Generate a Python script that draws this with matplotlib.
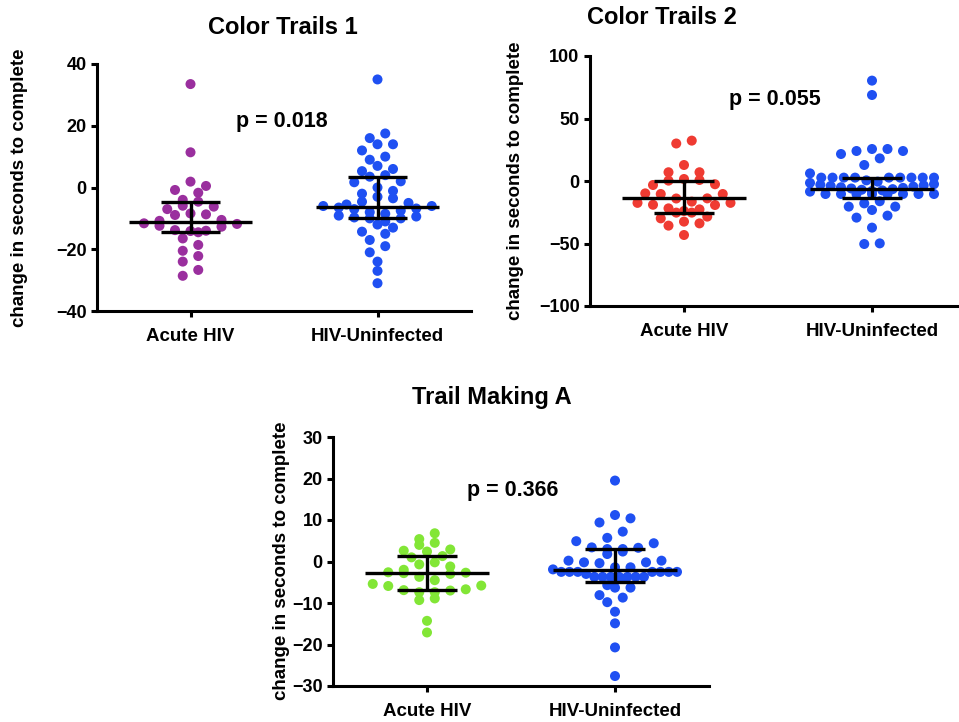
import matplotlib.pyplot as plt
import numpy as np

plt.rcParams['font.family'] = ['Liberation Sans', 'DejaVu Sans']
plt.rcParams['font.weight'] = 'bold'

groups = ['Acute HIV', 'HIV-Uninfected']
titles = ['Color Trails 1', 'Color Trails 2', 'Trail Making A']
p_labels = ['p = 0.018', 'p = 0.055', 'p = 0.366']
ylims = [(-40, 40), (-100, 100), (-30, 30)]
yticks = [[-40, -20, 0, 20, 40], [-100, -50, 0, 50, 100], [-30, -20, -10, 0, 10, 20, 30]]
ylabel = 'change in seconds to complete'

# Color Trails 1
ct1_acute = [33.5, 11.4, 1.9, 0.5, -0.8, -1.7, -4.0, -4.6, -5.9, -6.2, -7.0, -8.4, -8.7,
             -8.9, -10.5, -10.8, -11.6, -11.8, -12.4, -12.7, -13.8, -14.0, -14.1, -14.5,
             -16.5, -18.6, -20.5, -22.2, -24.0, -26.7, -28.6]
ct1_uninf = [35, 17.5, 16, 14, 14, 12, 10, 9, 7, 6, 5.3, 4, 3.5, 2, 1.7, 0, -1.1, -2, -3,
             -3.5, -4.6, -5, -5.5, -6, -6, -6.5, -6.8, -7, -7.5, -8, -8.5, -9.1, -9.4, -9.7,
             -10, -10, -11, -12, -13, -14.3, -15, -17, -19, -21, -24, -27, -31]
# Color Trails 2
ct2_acute = [32.3, 30, 12.8, 7, 7, 1.6, 0.8, 0.3, -2.6, -3.2, -9.9, -10.4, -10.4, -13.9,
             -14, -16.5, -17.5, -17.5, -19, -19.2, -21.9, -22.7, -24, -25.3, -25.3, -28.5,
             -29.9, -32.5, -33.9, -35.7, -43.2]
ct2_uninf = [80.3, 68.8, 25.6, 25.6, 24, 24, 21.6, 18.1, 12.8, 6.1,
             2.7, 2.7, 2.7, 2.7, 2.7, 2.7, 2.7, 2.7, 2.7,
             0.5, -0.5, -1.5, -2.5, -3, -3.5, -4, -4.5, -5, -5.5, -6, -6.5, -7, -7.5, -8, -8.5,
             -10.4, -10.4, -10.4, -10.4, -10.4, -10.4, -10.4, -10.4,
             -16.2, -17.9, -20.5, -20.5, -23.2, -27.7, -29.3, -37.3, -49.9, -50.4]
# Trail Making A
tma_acute = [6.8, 5.4, 4.5, 4.0, 2.9, 2.6, 2.4, 1.3, 1.0, -0.2, -0.7, -1.2, -2.0, -2.6,
             -2.7, -2.8, -3.0, -3.7, -4.5, -5.4, -5.8, -5.9, -6.7, -6.9, -7.0, -7.4, -7.4,
             -8.9, -9.3, -14.3, -17.1]
tma_uninf = [19.5, 11.2, 10.4, 9.4, 7.2, 5.7, 4.9, 4.4, 3.4, 3.3, 3.0, 3.0, 2.4, 1.8, 0.2,
             0.2, -0.2, -0.2, -0.4, -1.4, -1.4, -1.9, -2.5, -2.5, -2.5, -2.5, -2.5, -2.5,
             -2.5, -3.0, -3.7, -3.7, -3.7, -3.7, -3.7, -3.7, -3.7, -4.2, -5.7, -6.3, -6.3,
             -8.1, -8.7, -9.8, -12.1, -14.9, -20.7, -27.6]

# median, upper quartile, lower quartile as drawn on the bars
ct1_stats = [(-11.1, -4.6, -14.3), (-6.2, 3.5, -10.0)]
ct2_stats = [(-13.9, 0.3, -25.3), (-6.4, 2.7, -13.9)]
tma_stats = [(-2.8, 1.3, -6.9), (-2.0, 3.0, -4.9)]

colors = [('#9a2f9e', '#1f50f2'), ('#ef3b32', '#1f50f2'), ('#82e636', '#1f50f2')]


def swarm_offsets(vals, ax, row_h=8.5, gap=15.5, half_w=62.0):
    # prism-like scatter: points grouped in rows, each row spread symmetrically
    p0 = ax.transData.transform((1, 0))
    p1 = ax.transData.transform((2, 1))
    sx, sy = p1[0] - p0[0], p1[1] - p0[1]
    vals = np.asarray(vals, dtype=float)
    order = np.argsort(-vals, kind='stable')
    rows, cur = [], []
    for i in order:
        if cur and (vals[cur[0]] - vals[i]) * sy > row_h:
            rows.append(cur)
            cur = []
        cur.append(i)
    rows.append(cur)
    xs = np.zeros(len(vals))
    for row in rows:
        n = len(row)
        if n == 1:
            continue
        s = min(gap, 2 * half_w / (n - 1))
        pos = (np.arange(n) - (n - 1) / 2) * s
        idx = sorted(range(n), key=lambda j: (-abs(pos[j]), pos[j]))
        if n <= 5:
            idx = idx[::-1]
        for j, i in zip(idx, row):
            xs[i] = pos[j]
    return xs / sx


W, H = 959, 722
fig = plt.figure(figsize=(W / 100, H / 100), dpi=100)


def px_axes(l, t, r, b):
    return fig.add_axes([l / W, 1 - b / H, (r - l) / W, (b - t) / H])


axes = [px_axes(97, 64, 471, 311), px_axes(590, 56, 966, 306), px_axes(333, 437, 709, 686)]
datasets = [(ct1_acute, ct1_uninf), (ct2_acute, ct2_uninf), (tma_acute, tma_uninf)]
stats = [ct1_stats, ct2_stats, tma_stats]
p_pos = [(0.493, 0.766), (0.493, 0.824), (0.479, 0.787)]
title_pos = [(283, 28), (662, 18), (492, 398)]
ylab_pos = [(20, 188), (515, 181), (281, 561)]

for i, ax in enumerate(axes):
    ax.set_xlim(0.5, 2.5)
    ax.set_ylim(*ylims[i])
    for k in range(2):
        vals = datasets[i][k]
        off = swarm_offsets(vals, ax)
        ax.scatter(k + 1 + off, vals, s=52, color=colors[i][k], edgecolors='none',
                   zorder=2, clip_on=False)
        med, hi, lo = stats[i][k]
        ax.hlines(med, k + 1 - 0.33, k + 1 + 0.33, color='black', lw=2.4, zorder=3)
        ax.hlines([hi, lo], k + 1 - 0.16, k + 1 + 0.16, color='black', lw=2.4, zorder=3)
        ax.vlines(k + 1, lo, hi, color='black', lw=2.4, zorder=3)
    for s in ['top', 'right']:
        ax.spines[s].set_visible(False)
    for s in ['left', 'bottom']:
        ax.spines[s].set_linewidth(2.2)
    ax.set_yticks(yticks[i])
    ax.set_xticks([1, 2])
    ax.set_xticklabels(groups, fontweight='bold', fontsize=13.5)
    ax.tick_params(direction='out', length=4.5, width=2.2, labelsize=13, pad=3)
    ax.tick_params(axis='x', labelsize=13.5, pad=8)
    ax.text(p_pos[i][0], p_pos[i][1], p_labels[i], transform=ax.transAxes, ha='center',
            va='center', fontsize=15.5, fontweight='bold')
    fig.text(title_pos[i][0] / W, 1 - title_pos[i][1] / H, titles[i], ha='center',
             va='center', fontsize=17, fontweight='bold')
    fig.text(ylab_pos[i][0] / W, 1 - ylab_pos[i][1] / H, ylabel, rotation=90, ha='center',
             va='center', fontsize=13.5, fontweight='bold')

fig.savefig('out.png', dpi=100)
